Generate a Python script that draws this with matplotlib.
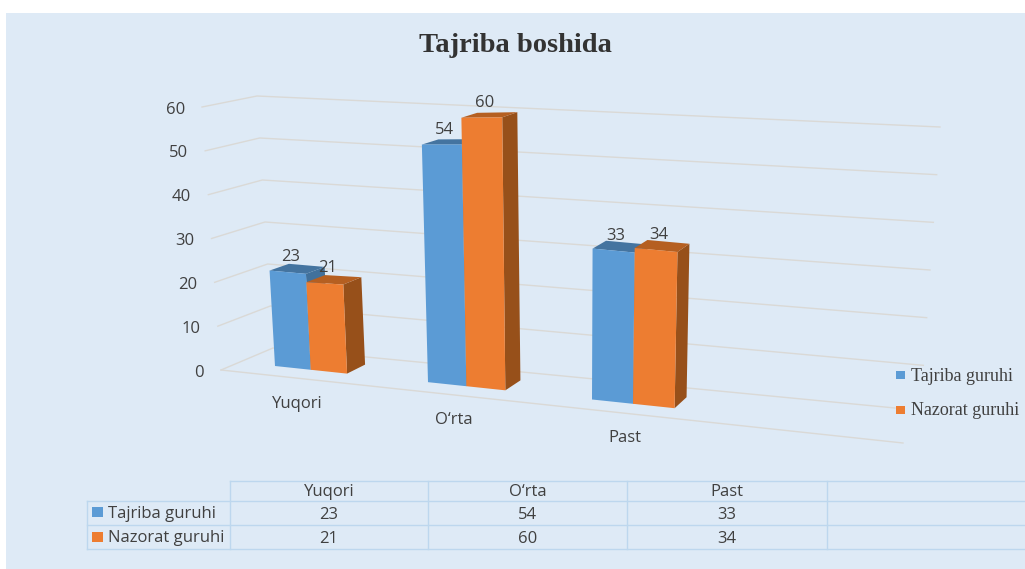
import matplotlib
matplotlib.use("Agg")
import matplotlib.pyplot as plt
import numpy as np

title = "Tajriba boshida"
categories = ["Yuqori", "O\u2018rta", "Past"]
series_names = ["Tajriba guruhi", "Nazorat guruhi"]
tajriba = [23, 54, 33]
nazorat = [21, 60, 34]
ticks = [0, 10, 20, 30, 40, 50, 60]

BG = "#DEEAF6"
GRID = "#DAD9D6"
TXT = "#404040"
LINE = "#BDD7EE"
front_cols = ["#5B9BD5", "#ED7D31"]
top_cols = ["#4474A0", "#B55F21"]
side_cols = ["#41719C", "#97501A"]
SANS = "Open Sans"
SERIF = "Liberation Serif"

fig = plt.figure(figsize=(10.25, 5.69), dpi=100, facecolor="white")
ax = fig.add_axes([0, 0, 1, 1])
ax.set_xlim(0, 1025)
ax.set_ylim(569, 0)
ax.axis("off")
ax.fill([6, 1025, 1025, 6], [13, 13, 569, 569], color=BG, lw=0)


# walls of the fake 3d box, lerped between value 0 and value 60
def wall(v, p0, p60):
    t = v / 60
    return p0[0] + (p60[0] - p0[0]) * t, p0[1] + (p60[1] - p0[1]) * t


for v in ticks:
    fl = wall(v, (221, 370), (202, 107))
    bl = wall(v, (273, 348), (257, 96))
    br = wall(v, (920, 413), (940, 127))
    if v == 0:
        br = (895, 408)
    ax.plot([fl[0], bl[0], br[0]], [fl[1], bl[1], br[1]], color=GRID, lw=1, zorder=1)
    ax.text(fl[0] - 17, fl[1] + 2.5, str(v), ha="right", va="center", fontsize=12,
            family=SANS, color=TXT)
ax.plot([221, 903], [370, 443], color=GRID, lw=1, zorder=1)


# perspective of the bars
def base_x(u):
    return 275 + 147.5 * u + 5.5 * u ** 2


def floor_y(x):
    return 366 + 0.1056 * (x - 275)


def project(x, v):
    s = np.interp(x, [300, 505, 700], [4.15, 4.55, 4.6])
    return x + (x - 570) * 0.0008 * v, floor_y(x) - v * s


def depth(x, v):
    return 18 - (x - 347) * 0.0185, -9 - (x - 347) * 0.006 + 0.08 * v


BAR = 0.24
for s, vals in enumerate([tajriba, nazorat]):
    for i, v in enumerate(vals):
        x0 = base_x(i + s * BAR)
        x1 = base_x(i + (s + 1) * BAR)
        a, b = project(x0, v), project(x1, v)
        c, d = project(x1, 0), project(x0, 0)
        da = depth(x0, v)
        db = depth(x1, v)
        dc = depth(x1, 0)
        z = 3 + s
        # side
        ax.fill([b[0], b[0] + db[0], c[0] + dc[0], c[0]],
                [b[1], b[1] + db[1], c[1] + dc[1], c[1]], color=side_cols[s], lw=0, zorder=z)
        # top
        ax.fill([a[0], a[0] + da[0], b[0] + db[0], b[0]],
                [a[1], a[1] + da[1], b[1] + db[1], b[1]], color=top_cols[s], lw=0, zorder=z)
        # front
        ax.fill([a[0], b[0], c[0], d[0]], [a[1], b[1], c[1], d[1]],
                color=front_cols[s], lw=0, zorder=z)
        ax.text((a[0] + b[0]) / 2 + 2.5, (a[1] + b[1]) / 2 - 15, str(v), ha="center",
                va="center", fontsize=12, family=SANS, color=TXT, zorder=6)

for name, x, y in zip(categories, [297, 454, 625], [404, 420, 438]):
    ax.text(x, y, name, ha="center", va="center", fontsize=12, family=SANS, color=TXT)

ax.text(515, 45, title, ha="center", va="center", fontsize=20.5, fontweight="bold",
        family=SERIF, color="#333333")

# legend on the right
for s, name in enumerate(series_names):
    y = 375 + s * 34.5
    ax.fill([896, 905, 905, 896], [y - 4, y - 4, y + 4, y + 4], color=front_cols[s], lw=0, zorder=7)
    ax.text(911, y + 1, name, ha="left", va="center", fontsize=13, family=SERIF, color=TXT, zorder=7)

# data table
col_x = [230, 428, 627, 827, 1025]
row_y = [481, 501, 525, 549]
ax.plot([230, 1025], [row_y[0], row_y[0]], color=LINE, lw=1)
for y in row_y[1:]:
    ax.plot([87, 1025], [y, y], color=LINE, lw=1)
ax.plot([87, 87], [row_y[1], row_y[3]], color=LINE, lw=1)
for x in col_x[:-1]:
    ax.plot([x, x], [row_y[0], row_y[3]], color=LINE, lw=1)

for i, name in enumerate(categories):
    xc = (col_x[i] + col_x[i + 1]) / 2
    ax.text(xc, 492, name, ha="center", va="center", fontsize=12, family=SANS, color=TXT)
    ax.text(xc, 515, str(tajriba[i]), ha="center", va="center", fontsize=12, family=SANS, color=TXT)
    ax.text(xc, 539, str(nazorat[i]), ha="center", va="center", fontsize=12, family=SANS, color=TXT)

for s, name in enumerate(series_names):
    y = 512 + s * 25
    ax.fill([92, 103, 103, 92], [y - 5, y - 5, y + 5, y + 5], color=front_cols[s], lw=0)
    ax.text(108, y + 1.5, name, ha="left", va="center", fontsize=12, family=SANS, color=TXT)

fig.savefig("out.png", dpi=100)
